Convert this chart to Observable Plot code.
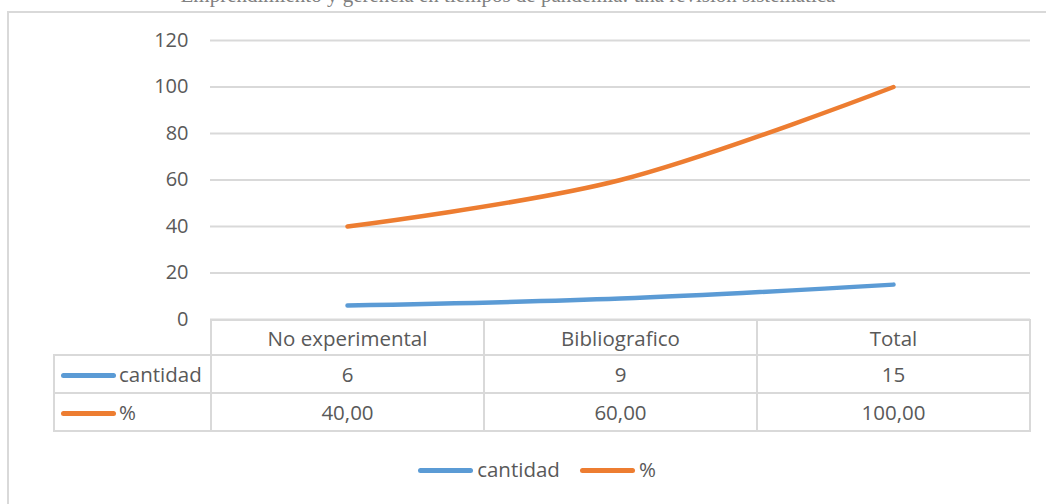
<!DOCTYPE html>
<html><head><meta charset="utf-8">
<script src="https://cdn.jsdelivr.net/npm/d3@7"></script>
<script src="https://cdn.jsdelivr.net/npm/@observablehq/plot@0.6"></script>
<style>
html,body{margin:0;padding:0;background:#fff;overflow:hidden;}
#wrap{position:relative;width:1046px;height:504px;font-family:"Open Sans",sans-serif;color:#595959;}
#frame{position:absolute;left:7px;top:11px;width:1100px;height:600px;border-left:2px solid #d9d9d9;border-top:2px solid #d9d9d9;box-sizing:border-box;}
#title{position:absolute;left:0;width:1016px;text-align:center;top:-17px;font-family:"Liberation Serif",serif;font-size:21px;color:#808080;white-space:nowrap;}
#chart{position:absolute;left:0;top:0;}
table{position:absolute;left:53px;top:319px;border-collapse:collapse;font-size:20.5px;color:#595959;}
td{border:2px solid #d9d9d9;text-align:center;padding:0;height:36px;line-height:20px;}
td.lab{width:155px;text-align:left;white-space:nowrap;}
td.cat{width:271px;}
.sw{display:inline-block;width:55px;height:5px;border-radius:3px;vertical-align:middle;margin:0 3px 0 6px;position:relative;top:-1px;}
#legend{position:absolute;left:14px;width:1046px;top:455px;text-align:center;font-size:20.5px;}
#legend span.item{margin:0 10px;}
#legend .sw{margin:0 4px 0 0;}
</style></head>
<body><div id="wrap">
<div id="frame"></div>
<div id="title"></div>
<div id="chart"></div>
<table id="tbl"></table>
<div id="legend"></div>
</div>
<script>
const titleText = "Emprendimiento y gerencia en tiempos de pandemia: una revisión sistemática";
const categories = ["No experimental", "Bibliografico", "Total"];
const seriesNames = ["cantidad", "%"];
const cantidad = [6, 9, 15];
const porcentaje = [40, 60, 100];
const porcentajeLabels = ["40,00", "60,00", "100,00"];
const yTicks = [0, 20, 40, 60, 80, 100, 120];
const colors = ["#5B9BD5", "#ED7D31"];

document.getElementById("title").textContent = titleText;

const data = [];
categories.forEach((c, i) => {
  data.push({cat: c, series: seriesNames[0], value: cantidad[i]});
  data.push({cat: c, series: seriesNames[1], value: porcentaje[i]});
});

const chart = Plot.plot({
  width: 1046,
  height: 345,
  marginLeft: 210,
  marginRight: 16,
  marginTop: 40,
  marginBottom: 26,
  style: {fontFamily: "Open Sans", fontSize: "20px", color: "#595959", background: "transparent"},
  x: {type: "point", domain: categories, padding: 0.5, axis: null},
  y: {domain: [0, 120], ticks: yTicks, label: null, tickSize: 0, tickPadding: 22},
  color: {domain: seriesNames, range: colors},
  marks: [
    Plot.gridY(yTicks, {stroke: "#d9d9d9", strokeOpacity: 1, strokeWidth: 2}),
    Plot.axisY(yTicks, {tickSize: 0, tickPadding: 22, label: null, fill: "#595959"}),
    Plot.line(data, {x: "cat", y: "value", z: "series", stroke: "series", strokeWidth: 4.5, curve: "cardinal", strokeLinecap: "round"})
  ]
});
document.getElementById("chart").appendChild(chart);

const tbl = document.getElementById("tbl");
let html = '<tr><td class="lab" style="border-top:none;border-left:none;height:33px"></td>' +
  categories.map(c => `<td class="cat" style="height:33px">${c}</td>`).join("") + "</tr>";
const rows = [cantidad.map(String), porcentajeLabels];
seriesNames.forEach((s, k) => {
  html += `<tr><td class="lab"><span class="sw" style="background:${colors[k]}"></span>${s}</td>` +
    rows[k].map(v => `<td class="cat">${v}</td>`).join("") + "</tr>";
});
tbl.innerHTML = html;

document.getElementById("legend").innerHTML = seriesNames.map((s, k) =>
  `<span class="item"><span class="sw" style="background:${colors[k]}"></span>${s}</span>`).join("");
</script>
</body></html>
